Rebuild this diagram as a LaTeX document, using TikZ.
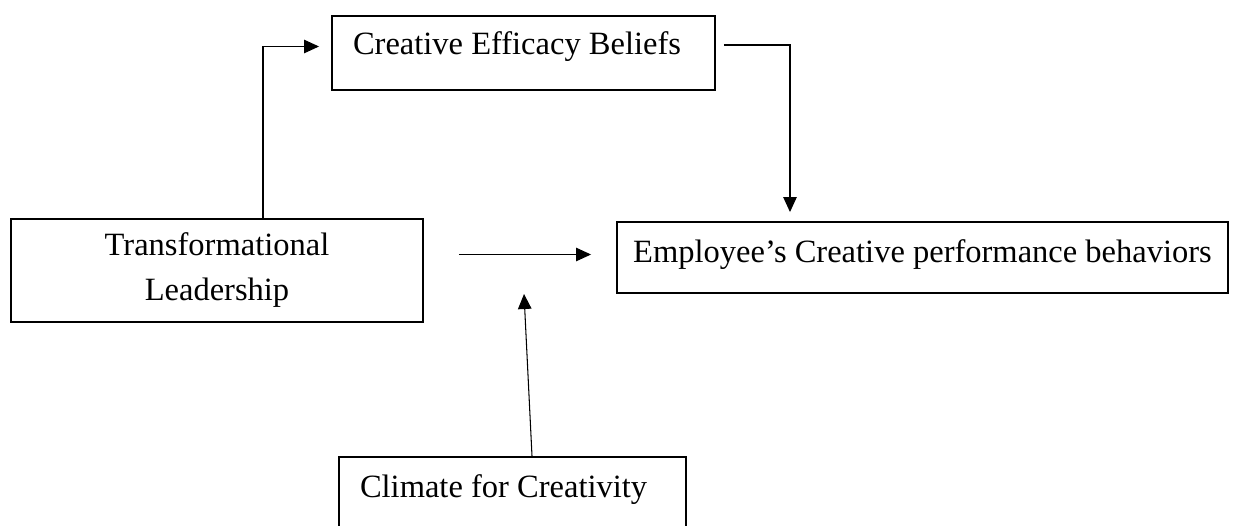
\documentclass[tikz,border=0pt]{standalone}
\usepackage{fontspec}
\setmainfont{Liberation Serif}
\usepackage{tikz}
\usetikzlibrary{shapes,arrows,arrows.meta,positioning}

\tikzset{
    factor/.style={draw, rectangle, line width=1.1pt, font=\fontsize{18.5}{25.6}\selectfont},
    link/.style={-{Triangle[length=0.3cm, width=0.27cm]}, line width=0.6pt}
}

\begin{document}
\begin{tikzpicture}
    \clip (0,0) rectangle (24.7,10.5);
    \node[factor, text width=6.82cm, align=flush left, inner xsep=0.42cm, inner ysep=0.1cm, text height=0.68cm, text depth=0.6cm] (ceb) at (10.47,9.44) {Creative Efficacy Beliefs};
    \node[factor, align=center, minimum width=8.24cm, minimum height=2.06cm] (tl) at (4.34,5.09) {Transformational\\Leadership};
    \node[factor, minimum width=12.22cm, inner ysep=0.1cm, text height=0.7cm, text depth=0.52cm] (emp) at (18.45,5.35) {Employee’s Creative performance behaviors};
    \node[factor, text width=6.1cm, align=flush left, inner xsep=0.42cm, inner ysep=0.1cm, text height=0.7cm, text depth=0.86cm] (clim) at (10.25,0.48) {Climate for Creativity};
    \coordinate (modpt) at (10.48,4.62);

    \draw[link] ([xshift=0.92cm]tl.north) |- ([xshift=-0.24cm, yshift=0.13cm]ceb.west);
    \draw[link] ([xshift=0.16cm, yshift=0.16cm]ceb.east) -| ([xshift=-2.65cm, yshift=0.18cm]emp.north);
    \draw[link] ([xshift=0.7cm, yshift=0.32cm]tl.east) -- ([xshift=-0.5cm, yshift=0.06cm]emp.west);
    \draw[link] ([xshift=0.39cm]clim.north) -- (modpt);
\end{tikzpicture}
\end{document}
